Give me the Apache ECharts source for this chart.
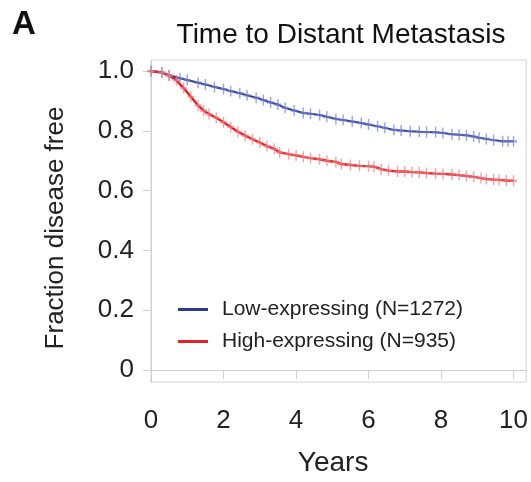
<!DOCTYPE html>
<html>
<head>
<meta charset="utf-8">
<script src="https://cdn.jsdelivr.net/npm/echarts@6/dist/echarts.min.js"></script>
<style>html,body{margin:0;padding:0;background:#fff}#c{width:531px;height:482px}</style>
</head>
<body>
<div id="c"></div>
<script>
const panelLabel = 'A';
const titleText = 'Time to Distant Metastasis';
const xName = 'Years';
const yName = 'Fraction disease free';
const xTicks = [0, 2, 4, 6, 8, 10];
const yTicks = [0, 0.2, 0.4, 0.6, 0.8, 1.0];
const seriesNames = ['Low-expressing (N=1272)', 'High-expressing (N=935)'];

const lowTimes = [0, 0.3, 0.5, 0.8, 1.0, 1.3, 1.5, 1.75, 2.0, 2.2, 2.45, 2.65, 2.9, 3.1, 3.3, 3.5, 3.7, 3.95, 4.2, 4.4, 4.65, 4.85, 5.1, 5.3, 5.55, 5.8, 6.0, 6.25, 6.45, 6.7, 6.9, 7.15, 7.4, 7.6, 7.85, 8.05, 8.3, 8.5, 8.7, 8.9, 9.05, 9.25, 9.45, 9.7, 9.85, 10.0];
const lowSurv  = [1.0, 0.995, 0.986, 0.976, 0.970, 0.961, 0.955, 0.947, 0.940, 0.933, 0.926, 0.919, 0.911, 0.903, 0.895, 0.888, 0.877, 0.868, 0.860, 0.857, 0.853, 0.847, 0.840, 0.836, 0.831, 0.826, 0.821, 0.815, 0.810, 0.803, 0.801, 0.799, 0.797, 0.796, 0.795, 0.793, 0.789, 0.787, 0.785, 0.781, 0.777, 0.773, 0.769, 0.765, 0.765, 0.765];

const highTimes = [0, 0.3, 0.5, 0.7, 0.9, 1.1, 1.3, 1.45, 1.6, 1.8, 2.0, 2.2, 2.4, 2.6, 2.8, 3.0, 3.2, 3.4, 3.55, 3.8, 4.0, 4.2, 4.4, 4.65, 4.85, 5.1, 5.25, 5.5, 5.75, 6.0, 6.15, 6.35, 6.55, 6.8, 7.0, 7.2, 7.4, 7.6, 7.85, 8.05, 8.3, 8.5, 8.7, 8.9, 9.1, 9.25, 9.45, 9.6, 9.8, 10.0];
const highSurv  = [1.0, 0.995, 0.985, 0.969, 0.943, 0.914, 0.885, 0.868, 0.856, 0.844, 0.829, 0.813, 0.797, 0.784, 0.772, 0.761, 0.749, 0.740, 0.728, 0.722, 0.718, 0.713, 0.709, 0.705, 0.700, 0.696, 0.689, 0.686, 0.683, 0.682, 0.680, 0.672, 0.667, 0.664, 0.664, 0.662, 0.661, 0.659, 0.657, 0.656, 0.654, 0.652, 0.649, 0.646, 0.642, 0.639, 0.637, 0.636, 0.634, 0.633];

const pairs = (t, v) => t.map((x, i) => [x, v[i]]);
const cross = 'path://M4,0H6V4H10V6H6V10H4V6H0V4H4Z';

const chart = echarts.init(document.getElementById('c'), null, {renderer: 'canvas'});
const font = 'Liberation Sans, Arial, sans-serif';

function kmSeries(name, data, lineColor, markColor, width) {
  return {
    name: name,
    type: 'line',
    data: data,
    showSymbol: true,
    showAllSymbol: true,
    symbol: cross,
    symbolSize: [7, 11],
    itemStyle: {color: markColor, opacity: 0.7},
    lineStyle: {color: lineColor, width: width},
    animation: false,
    z: 3
  };
}

chart.setOption({
  backgroundColor: '#fff',
  textStyle: {fontFamily: font},
  title: [
    {text: panelLabel, left: 7, top: 3, textStyle: {fontFamily: font, fontSize: 33, fontWeight: 'bold', color: '#111'}},
    {text: titleText, left: 336, top: 16, textAlign: 'center', textStyle: {fontFamily: font, fontSize: 28, fontWeight: 'normal', color: '#111'}}
  ],
  legend: {
    orient: 'vertical',
    left: 173,
    top: 294,
    icon: 'rect',
    itemWidth: 30,
    itemHeight: 3,
    itemGap: 11,
    data: [
      {name: seriesNames[0], itemStyle: {color: '#2c3993', opacity: 1}},
      {name: seriesNames[1], itemStyle: {color: '#e41f26', opacity: 1}}
    ],
    textStyle: {fontFamily: font, fontSize: 21, color: '#222', padding: [0, 0, 0, 9]}
  },
  grid: {left: 151, right: 3, top: 60, bottom: 97, show: true, borderColor: '#d4d4d4', borderWidth: 1, containLabel: false},
  xAxis: {
    type: 'value', min: 0, max: 10.35,
    name: xName, nameLocation: 'middle', nameGap: 67,
    nameTextStyle: {fontFamily: font, fontSize: 28, color: '#222', padding: [0, 11, 0, 0]},
    axisLine: {show: true, lineStyle: {color: '#cfcfcf', width: 1}},
    axisTick: {show: true, length: 9, lineStyle: {color: '#cfcfcf'}, customValues: xTicks},
    axisLabel: {fontFamily: font, fontSize: 26, color: '#222', margin: 26, customValues: xTicks, formatter: v => String(v)},
    splitLine: {show: false}
  },
  yAxis: {
    type: 'value', min: -0.04, max: 1.037,
    name: yName, nameLocation: 'middle', nameGap: 82,
    nameTextStyle: {fontFamily: font, fontSize: 26, color: '#222', padding: [0, 14, 0, 0]},
    axisLine: {show: true, lineStyle: {color: '#cfcfcf', width: 1}},
    axisTick: {show: true, length: 8, lineStyle: {color: '#cfcfcf'}, customValues: yTicks},
    axisLabel: {fontFamily: font, fontSize: 26, color: '#222', margin: 17, customValues: yTicks, formatter: v => v === 0 ? '0' : v.toFixed(1)},
    splitLine: {show: false}
  },
  series: [
    kmSeries(seriesNames[0], pairs(lowTimes, lowSurv), '#2c3993', '#6f7fcf', 2),
    kmSeries(seriesNames[1], pairs(highTimes, highSurv), '#e41f26', '#f27a80', 2.4)
  ]
});
</script>
</body>
</html>
